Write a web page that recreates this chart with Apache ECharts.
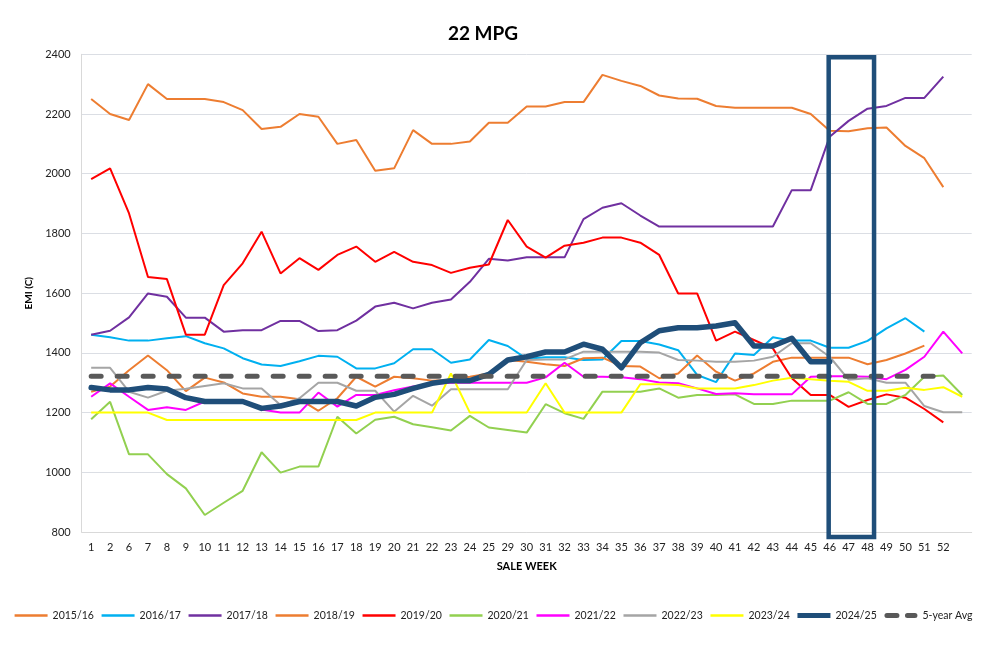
<!DOCTYPE html>
<html>
<head>
<meta charset="utf-8">
<script src="https://cdn.jsdelivr.net/npm/echarts@6/dist/echarts.min.js"></script>
<style>
html,body{margin:0;padding:0;background:#fff;}
#main{width:987px;height:648px;}
</style>
</head>
<body>
<div id="main"></div>
<script>
const weeks = ['1','2','6','7','8','9','10','11','12','13','14','15','16','17','18','19','20','21','22','23','24','25','29','30','31','32','33','34','35','36','37','38','39','40','41','42','43','44','45','46','47','48','49','50','51','52',''];
const yTicks = [800, 1000, 1200, 1400, 1600, 1800, 2000, 2200, 2400];

const s2015 = [2250,2200,2180,2300,2250,2250,2250,2240,2213,2150,2157,2200,2191,2100,2113,2010,2018,2146,2100,2100,2108,2171,2171,2225,2225,2240,2240,2331,2311,2294,2262,2252,2251,2227,2221,2221,2221,2221,2200,2144,2142,2152,2155,2093,2052,1955,null];
const s2016 = [1461,1452,1441,1441,1449,1456,1432,1415,1382,1361,1356,1372,1390,1387,1348,1348,1365,1412,1412,1367,1378,1443,1423,1380,1385,1385,1376,1378,1440,1440,1428,1409,1326,1302,1398,1393,1452,1441,1441,1417,1417,1440,1482,1516,1471,null,null];
const s2017 = [1461,1474,1519,1599,1588,1518,1518,1471,1476,1476,1507,1507,1473,1476,1508,1555,1568,1549,1568,1579,1638,1715,1709,1720,1720,1720,1848,1886,1901,1860,1823,1823,1823,1823,1823,1823,1823,1945,1945,2124,2177,2218,2227,2254,2254,2325,null];
const s2018 = [1270,1287,1342,1391,1342,1272,1317,1301,1264,1253,1253,1245,1206,1248,1320,1287,1320,1315,1307,1310,1320,1331,1376,1370,1362,1356,1382,1384,1356,1354,1315,1331,1391,1337,1307,1331,1370,1384,1384,1384,1384,1362,1376,1398,1424,null,null];
const s2019 = [1982,2018,1867,1654,1647,1461,1461,1627,1700,1806,1666,1717,1678,1728,1756,1705,1738,1705,1694,1668,1685,1696,1845,1756,1719,1759,1769,1786,1786,1769,1728,1599,1599,1441,1471,1443,1415,1315,1259,1259,1219,1242,1261,1250,1212,1167,null];
const s2020 = [1178,1236,1060,1060,994,946,857,898,938,1067,999,1019,1019,1186,1130,1176,1186,1161,1151,1140,1189,1150,1142,1133,1228,1198,1179,1270,1270,1270,1281,1250,1259,1259,1261,1229,1229,1240,1240,1240,1268,1229,1229,1259,1320,1324,1259];
const s2021 = [1253,1298,1253,1209,1218,1209,1237,1240,1240,1210,1200,1200,1267,1220,1259,1259,1275,1287,1296,1300,1300,1300,1300,1300,1318,1367,1320,1320,1318,1312,1301,1298,1281,1262,1265,1261,1261,1261,1320,1322,1322,1320,1312,1343,1387,1471,1398];
const s2022 = [1350,1350,1270,1250,1273,1280,1289,1298,1281,1281,1225,1248,1300,1300,1273,1273,1203,1256,1223,1278,1278,1278,1278,1376,1378,1378,1404,1404,1404,1404,1401,1376,1374,1370,1370,1374,1387,1432,1432,1387,1310,1315,1300,1300,1222,1201,1201];
const s2023 = [1200,1200,1200,1200,1175,1175,1175,1175,1175,1175,1175,1175,1175,1175,1175,1200,1200,1200,1200,1331,1200,1200,1200,1200,1298,1200,1200,1200,1200,1295,1295,1292,1281,1281,1281,1292,1307,1317,1312,1307,1303,1273,1273,1283,1276,1285,1253];
const s2024 = [1284,1276,1276,1284,1279,1250,1237,1237,1237,1214,1222,1237,1237,1237,1222,1251,1261,1281,1298,1307,1307,1328,1376,1387,1403,1403,1429,1412,1350,1434,1474,1484,1484,1490,1501,1423,1423,1449,1370,1370,null,null,null,null,null,null,null];
const avg5 = [1322,1322,1322,1322,1322,1322,1322,1322,1322,1322,1322,1322,1322,1322,1322,1322,1322,1322,1322,1322,1322,1322,1322,1322,1322,1322,1322,1322,1322,1322,1322,1322,1322,1322,1322,1322,1322,1322,1322,1322,1322,1322,1322,1322,1322,1322,null];

const seriesNames = ['2015/16','2016/17','2017/18','2018/19','2019/20','2020/21','2021/22','2022/23','2023/24','2024/25','5-year Avg'];
const seriesData = [s2015,s2016,s2017,s2018,s2019,s2020,s2021,s2022,s2023,s2024,avg5];
const colors = ['#ED7D31','#00B0F0','#7030A0','#ED7D31','#FF0000','#92D050','#FF00FF','#A5A5A5','#FFFF00','#1F4E79','#595959'];
const boxWeeks = ['46','48'];

const FONT = 'Lato, "Open Sans", sans-serif';
const chart = echarts.init(document.getElementById('main'), null, {renderer:'canvas'});

const series = seriesNames.map((name, i) => {
  const s = {
    name, type:'line', data: seriesData[i], symbol:'none', connectNulls:false,
    lineStyle:{color: colors[i], width: 2},
    itemStyle:{color: colors[i]},
    emphasis:{disabled:true},
    animation:false
  };
  if (name === '2024/25') s.lineStyle = {color: colors[i], width: 5.5, cap:'round', join:'round'};
  if (name === '5-year Avg') s.lineStyle = {color: colors[i], width: 5, type:[10,16], cap:'round'};
  return s;
});

const ICON_THIN = 'path://M0,0h33v2.4h-33z';
const ICON_THICK = 'path://M0,0h33v5h-33z';
const ICON_DASH = 'path://M2.5,0h10a2.5,2.5 0 0 1 0,5h-10a2.5,2.5 0 0 1 0,-5zM23,0h7.5a2.5,2.5 0 0 1 0,5h-7.5a2.5,2.5 0 0 1 0,-5z';
const legendData = seriesNames.map((name) => {
  let icon = ICON_THIN;
  if (name === '2024/25') icon = ICON_THICK;
  if (name === '5-year Avg') icon = ICON_DASH;
  return {name, icon};
});

chart.setOption({
  animation:false,
  backgroundColor:'#fff',
  title:{text:'22 MPG', left:478, top:19, textAlign:'center',
    textStyle:{fontFamily:FONT, fontSize:19, fontWeight:'bold', color:'#000'}},
  grid:{left:81.7, right:15.3, top:54.3, bottom:116, containLabel:false},
  legend:{data: legendData, top:605, left:'center', itemWidth:33, itemHeight:10, itemGap:7.7,
    padding:[5,0], symbolKeepAspect:true,
    textStyle:{fontFamily:FONT, fontSize:10.5, color:'#222'}},
  xAxis:{type:'category', data: weeks, boundaryGap:true,
    name:'SALE WEEK', nameLocation:'middle', nameGap:29,
    nameTextStyle:{fontFamily:FONT, fontSize:11, fontWeight:'bold', color:'#000'},
    axisLine:{show:true, lineStyle:{color:'#D9D9D9', width:1}},
    axisTick:{show:false},
    axisLabel:{fontFamily:FONT, fontSize:11, color:'#222', margin:10, interval:0}},
  yAxis:{type:'value', min:yTicks[0], max:yTicks[yTicks.length-1], interval:200,
    name:'EMI (C)', nameLocation:'middle', nameGap:35, nameRotate:90,
    nameTextStyle:{fontFamily:FONT, fontSize:10, fontWeight:'bold', color:'#000'},
    axisLine:{show:true, lineStyle:{color:'#D9D9D9', width:1}},
    axisTick:{show:false},
    axisLabel:{fontFamily:FONT, fontSize:11, color:'#222', margin:11, formatter:(v)=>String(v)}},
  series
});

const xa = chart.convertToPixel({xAxisIndex:0}, boxWeeks[0]);
const xb = chart.convertToPixel({xAxisIndex:0}, boxWeeks[1]);
const ya = chart.convertToPixel({yAxisIndex:0}, 2390);
const yb = chart.convertToPixel({yAxisIndex:0}, 783);
chart.setOption({graphic:[{type:'rect', z:100,
  shape:{x:xa-1, y:ya, width:(xb+6.5)-(xa-1), height:yb-ya},
  style:{fill:'none', stroke:'#1F4E79', lineWidth:4.5}}]});
</script>
</body>
</html>
